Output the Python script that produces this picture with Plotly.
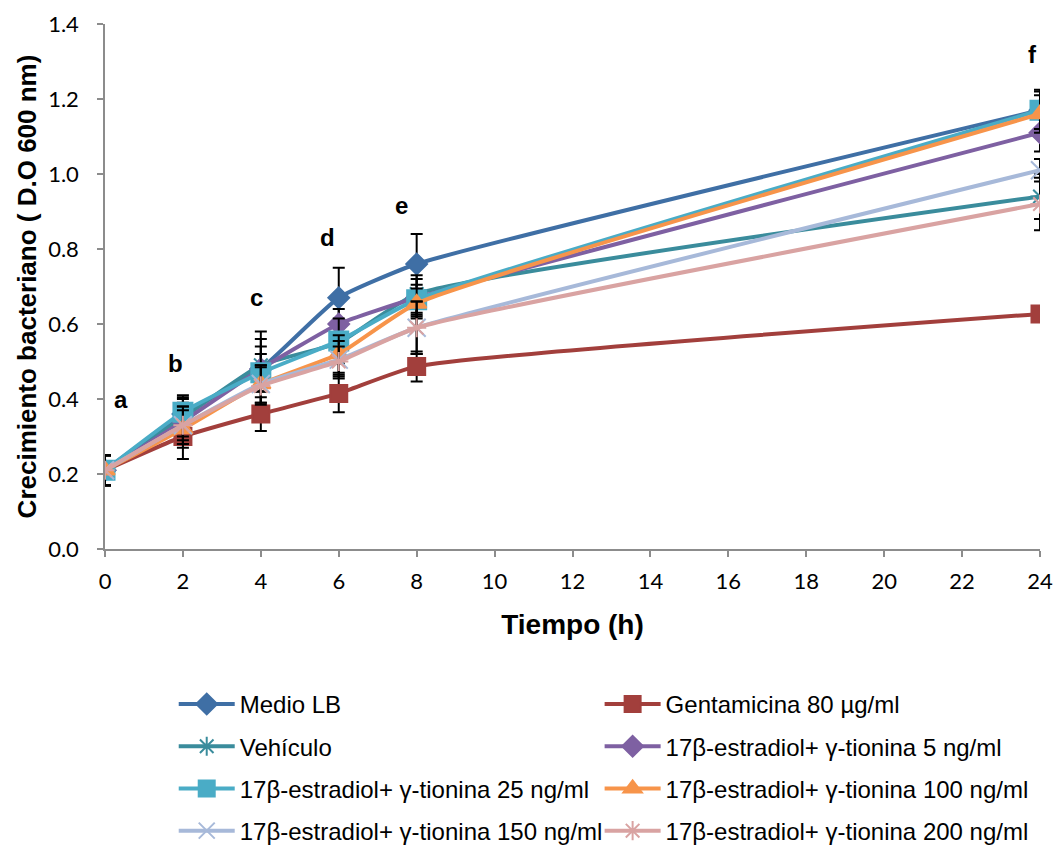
import plotly.graph_objects as go

tiempo = [0, 2, 4, 6, 8, 24]

nombres = [
    "Medio LB",
    "Gentamicina 80 µg/ml",
    "Vehículo",
    "17β-estradiol+ γ-tionina 5 ng/ml",
    "17β-estradiol+ γ-tionina 25 ng/ml",
    "17β-estradiol+ γ-tionina 100 ng/ml",
    "17β-estradiol+ γ-tionina 150 ng/ml",
    "17β-estradiol+ γ-tionina 200 ng/ml",
]

medio_lb = [0.21, 0.36, 0.48, 0.67, 0.76, 1.17]
gentamicina = [0.21, 0.30, 0.36, 0.415, 0.487, 0.627]
vehiculo = [0.21, 0.35, 0.49, 0.55, 0.68, 0.94]
tionina_5 = [0.21, 0.34, 0.48, 0.60, 0.67, 1.11]
tionina_25 = [0.21, 0.365, 0.47, 0.555, 0.665, 1.17]
tionina_100 = [0.21, 0.32, 0.44, 0.52, 0.655, 1.16]
tionina_150 = [0.21, 0.33, 0.44, 0.505, 0.59, 1.01]
tionina_200 = [0.21, 0.33, 0.435, 0.50, 0.59, 0.92]

err_medio_lb = [0.04, 0.05, 0.10, 0.08, 0.08, 0.055]
err_gentamicina = [0.04, 0.06, 0.045, 0.05, 0.04, 0.02]
err_vehiculo = [0.04, 0.05, 0.07, 0.04, 0.05, 0.06]
err_tionina_5 = [0.04, 0.05, 0.06, 0.04, 0.05, 0.05]
err_tionina_25 = [0.04, 0.04, 0.05, 0.06, 0.04, 0.05]
err_tionina_100 = [0.04, 0.05, 0.05, 0.05, 0.04, 0.05]
err_tionina_150 = [0.04, 0.05, 0.05, 0.05, 0.07, 0.03]
err_tionina_200 = [0.04, 0.05, 0.05, 0.04, 0.07, 0.07]

letras = ["a", "b", "c", "d", "e", "f"]
letras_x = [0.4, 1.8, 3.9, 5.7, 7.6, 23.8]
letras_y = [0.40, 0.495, 0.67, 0.83, 0.915, 1.32]

valores = [medio_lb, gentamicina, vehiculo, tionina_5, tionina_25,
           tionina_100, tionina_150, tionina_200]
errores = [err_medio_lb, err_gentamicina, err_vehiculo, err_tionina_5,
           err_tionina_25, err_tionina_100, err_tionina_150, err_tionina_200]
colores = ["#3F6FA5", "#A23F3C", "#3A8C9C", "#7E60A2",
           "#4AACC6", "#F7944A", "#A7B9D9", "#D9A3A2"]
simbolos = ["diamond", "square", "asterisk-open", "diamond",
            "square", "triangle-up", "x-thin-open", "asterisk-open"]
tamanos = [16, 17, 16, 16, 19, 17, 18, 16]
leyendas = ["legend", "legend2", "legend", "legend2",
            "legend", "legend2", "legend", "legend2"]

fig = go.Figure()
for i in range(len(nombres)):
    fig.add_trace(go.Scatter(
        x=tiempo, y=valores[i], name=nombres[i],
        mode="lines+markers",
        line=dict(color=colores[i], width=4, shape="spline", smoothing=0.45),
        marker=dict(symbol=simbolos[i], size=tamanos[i], color=colores[i],
                    line=dict(color=colores[i], width=2)),
        error_y=dict(type="data", array=errores[i], visible=True,
                     color="black", thickness=2, width=6),
        legend=leyendas[i], legendgroup=nombres[i],
    ))

for lx, ly, lt in zip(letras_x, letras_y, letras):
    fig.add_annotation(x=lx, y=ly, text="<b>" + lt + "</b>", showarrow=False,
                       font=dict(family="Liberation Sans, Arial", size=24, color="black"))

leg_common = dict(orientation="v", font=dict(family="Liberation Sans, Arial", size=24, color="black"),
                  tracegroupgap=8, bgcolor="rgba(0,0,0,0)", xanchor="left", yanchor="top",
                  yref="container", itemwidth=56)

fig.update_layout(
    width=1055, height=846,
    margin=dict(l=105, r=15, t=24, b=297),
    plot_bgcolor="white", paper_bgcolor="white",
    font=dict(family="Liberation Sans, Arial", color="black"),
    legend=dict(x=0.0735, y=0.1939, **leg_common),
    legend2=dict(x=0.529, y=0.1939, **leg_common),
    xaxis=dict(
        range=[0, 24], tickmode="array", tickvals=list(range(0, 25, 2)),
        automargin=False,
        showgrid=False, zeroline=False, showline=True, linecolor="#8c8c8c", linewidth=1.5,
        ticks="outside", tickcolor="#8c8c8c", ticklen=6, tickwidth=1.5,
        ticklabelstandoff=6,
        tickfont=dict(family="Lato, Open Sans", size=22, color="black"),
        title=dict(text="<b>Tiempo (h)</b>", font=dict(family="Liberation Sans, Arial", size=28), standoff=21),
    ),
    yaxis=dict(
        range=[0, 1.4], tickmode="array", tickvals=[0, 0.2, 0.4, 0.6, 0.8, 1.0, 1.2, 1.4],
        tickformat=".1f", automargin=False,
        showgrid=False, zeroline=False, showline=True, linecolor="#8c8c8c", linewidth=1.5,
        ticks="outside", tickcolor="#8c8c8c", ticklen=6, tickwidth=1.5,
        ticklabelstandoff=14,
        tickfont=dict(family="Lato, Open Sans", size=22, color="black"),
        title=dict(text="<b>Crecimiento bacteriano ( D.O 600 nm)</b>",
                   font=dict(family="Liberation Sans, Arial", size=26), standoff=4),
    ),
)

fig.write_html("out.html", config={"displayModeBar": False},
               post_script="document.body.style.margin='0px';")
